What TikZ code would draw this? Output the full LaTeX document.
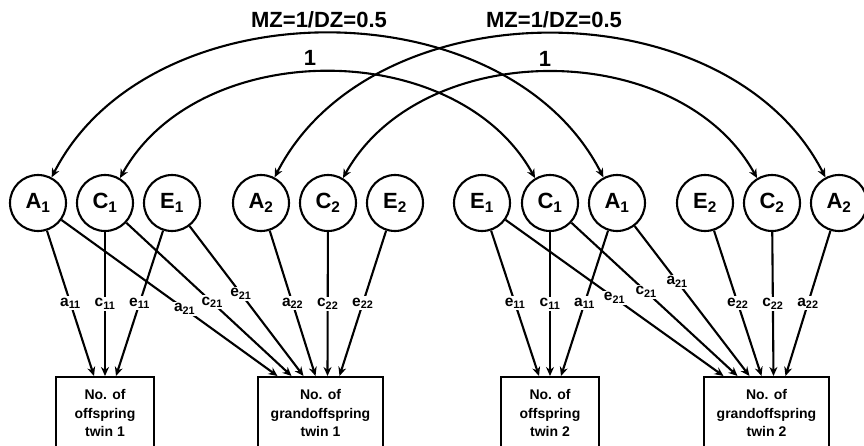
\documentclass[tikz,border=0pt]{standalone}
\usepackage{fontspec}
\setmainfont{Liberation Sans}
\usetikzlibrary{arrows.meta}

\begin{document}
\begin{tikzpicture}[x=1pt, y=1pt,
        factor/.style={circle, draw, line width=2.1pt, minimum size=56pt, inner sep=0pt,
            font=\fontsize{22}{22}\selectfont\bfseries},
        outcome/.style={rectangle, draw, line width=2.1pt, anchor=north, minimum height=72pt,
            align=center, font=\fontsize{14}{18.5}\selectfont\bfseries},
        load/.style={line width=2.1pt, -{Stealth[length=9pt, width=8pt]}},
        corr/.style={line width=2.1pt, {Stealth[length=9pt, width=8pt]}-{Stealth[length=9pt, width=8pt]}},
        coef/.style={fill=white, inner sep=1.5pt, font=\fontsize{15.5}{15.5}\selectfont\bfseries},
        corrlbl/.style={above=4pt, inner sep=1pt, font=\fontsize{22}{22}\selectfont\bfseries}]
            \useasboundingbox (0,0) rectangle (864,445);

            % Factores gemelo 1
            \node[factor] (A1-t1) at (38,242) {A\textsubscript{1}};
            \node[factor] (C1-t1) at (105,242) {C\textsubscript{1}};
            \node[factor] (E1-t1) at (172,242) {E\textsubscript{1}};
            \node[factor] (A2-t1) at (261,242) {A\textsubscript{2}};
            \node[factor] (C2-t1) at (328,242) {C\textsubscript{2}};
            \node[factor] (E2-t1) at (395,242) {E\textsubscript{2}};

            % Factores gemelo 2
            \node[factor] (E1-t2) at (482,242) {E\textsubscript{1}};
            \node[factor] (C1-t2) at (550,242) {C\textsubscript{1}};
            \node[factor] (A1-t2) at (617,242) {A\textsubscript{1}};
            \node[factor] (E2-t2) at (705,242) {E\textsubscript{2}};
            \node[factor] (C2-t2) at (772,242) {C\textsubscript{2}};
            \node[factor] (A2-t2) at (839,242) {A\textsubscript{2}};

            % Variables observadas
            \node[outcome, minimum width=98pt] (off-t1) at (105,69) {No. of\\offspring\\twin 1};
            \node[outcome, minimum width=125pt] (grand-t1) at (320.5,69) {No. of\\grandoffspring\\twin 1};
            \node[outcome, minimum width=98pt] (off-t2) at (550,69) {No. of\\offspring\\twin 2};
            \node[outcome, minimum width=125pt] (grand-t2) at (766.5,69) {No. of\\grandoffspring\\twin 2};

            % Correlaciones entre gemelos
            \draw[corr] (A1-t1.62) to[out=63, in=117] node[corrlbl, pos=0.5, xshift=-8.5pt] {MZ=1/DZ=0.5} (A1-t2.118);
            \draw[corr] (C1-t1.59) to[out=61, in=119] node[corrlbl, pos=0.5, xshift=-17.5pt] {1} (C1-t2.121);
            \draw[corr] (A2-t1.62) to[out=63, in=117] node[corrlbl, pos=0.5, xshift=4pt] {MZ=1/DZ=0.5} (A2-t2.118);
            \draw[corr] (C2-t1.59) to[out=61, in=119] node[corrlbl, pos=0.5, xshift=-5pt] {1} (C2-t2.121);

            % Cargas gemelo 1
            \draw[load] (A1-t1) -- node[coef] {a\textsubscript{11}} ([xshift=-11pt]off-t1.north);
            \draw[load] (C1-t1) -- node[coef] {c\textsubscript{11}} (off-t1.north);
            \draw[load] (E1-t1) -- node[coef] {e\textsubscript{11}} ([xshift=11pt]off-t1.north);
            \draw[load] (A1-t1) -- node[coef, pos=0.57] {a\textsubscript{21}} ([xshift=-43pt]grand-t1.north);
            \draw[load] (C1-t1) -- node[coef, pos=0.52] {c\textsubscript{21}} ([xshift=-29pt]grand-t1.north);
            \draw[load] (E1-t1) -- node[coef, pos=0.45] {e\textsubscript{21}} ([xshift=-17pt]grand-t1.north);
            \draw[load] (A2-t1) -- node[coef] {a\textsubscript{22}} ([xshift=-5pt]grand-t1.north);
            \draw[load] (C2-t1) -- node[coef] {c\textsubscript{22}} ([xshift=7pt]grand-t1.north);
            \draw[load] (E2-t1) -- node[coef] {e\textsubscript{22}} ([xshift=19pt]grand-t1.north);

            % Cargas gemelo 2
            \draw[load] (E1-t2) -- node[coef] {e\textsubscript{11}} ([xshift=-11pt]off-t2.north);
            \draw[load] (C1-t2) -- node[coef] {c\textsubscript{11}} (off-t2.north);
            \draw[load] (A1-t2) -- node[coef] {a\textsubscript{11}} ([xshift=11pt]off-t2.north);
            \draw[load] (E1-t2) -- node[coef, pos=0.5] {e\textsubscript{21}} ([xshift=-43pt]grand-t2.north);
            \draw[load] (C1-t2) -- node[coef, pos=0.45] {c\textsubscript{21}} ([xshift=-29pt]grand-t2.north);
            \draw[load] (A1-t2) -- node[coef, pos=0.37] {a\textsubscript{21}} ([xshift=-17pt]grand-t2.north);
            \draw[load] (E2-t2) -- node[coef] {e\textsubscript{22}} ([xshift=-5pt]grand-t2.north);
            \draw[load] (C2-t2) -- node[coef] {c\textsubscript{22}} ([xshift=7pt]grand-t2.north);
            \draw[load] (A2-t2) -- node[coef] {a\textsubscript{22}} ([xshift=19pt]grand-t2.north);
        \end{tikzpicture}
\end{document}
